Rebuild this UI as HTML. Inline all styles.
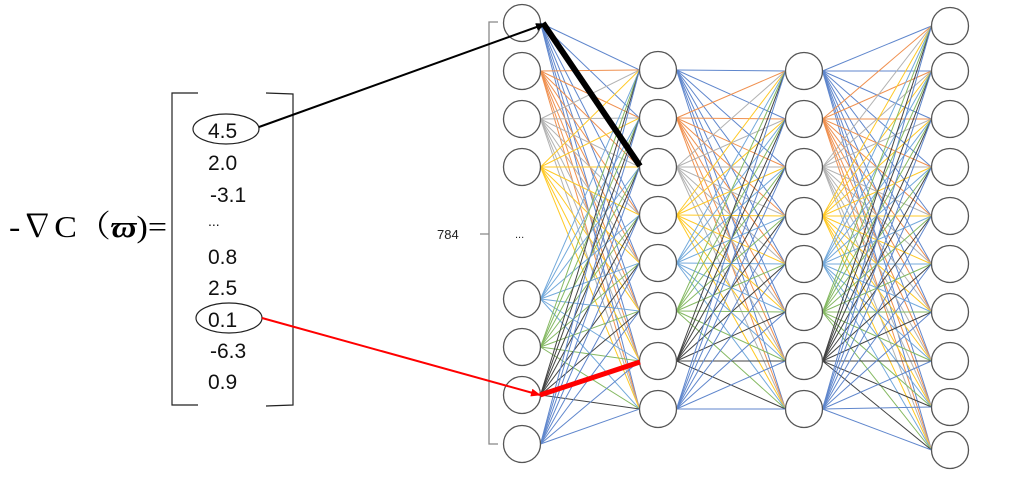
<!DOCTYPE html>
<html><head><meta charset="utf-8"><style>
html,body{margin:0;padding:0;background:#fff;width:1019px;height:484px;overflow:hidden}
svg{display:block}
</style></head><body>
<svg id="s" width="1019" height="484" xmlns="http://www.w3.org/2000/svg">
<defs>
<marker id="ab" markerWidth="10" markerHeight="8" refX="9" refY="4" orient="auto" markerUnits="userSpaceOnUse"><path d="M0,0 L10,4 L0,8 z" fill="#000"/></marker>
<marker id="ar" markerWidth="10" markerHeight="8" refX="9" refY="4" orient="auto" markerUnits="userSpaceOnUse"><path d="M0,0 L10,4 L0,8 z" fill="#f00"/></marker>
</defs>
<g id="lines" stroke-width="1" opacity="0.85"></g>
<g id="nodes" fill="#fff" stroke="#555" stroke-width="1.3"></g>
<text x="9" y="237" font-family="Liberation Serif, 'Noto Serif CJK SC', serif" font-size="31" textLength="158" lengthAdjust="spacingAndGlyphs">-∇C（<tspan font-style="italic" font-weight="bold">ϖ</tspan>)=</text>
<path d="M198,93 L172,93 L172,405 L198,405" fill="none" stroke="#222" stroke-width="1.2"/>
<path d="M266,93 L293,94 L293,405 L266,406" fill="none" stroke="#222" stroke-width="1.2"/>
<g font-family="Liberation Sans, sans-serif" font-size="21" fill="#111">
<text x="208" y="138">4.5</text>
<text x="208" y="170">2.0</text>
<text x="210" y="202">-3.1</text>
<text x="208" y="226" font-size="14">...</text>
<text x="208" y="264">0.8</text>
<text x="208" y="295">2.5</text>
<text x="208" y="327">0.1</text>
<text x="210" y="358">-6.3</text>
<text x="208" y="389">0.9</text>
</g>
<ellipse cx="226" cy="129" rx="33" ry="15" fill="none" stroke="#222" stroke-width="1.2"/>
<ellipse cx="229" cy="318" rx="33" ry="15" fill="none" stroke="#222" stroke-width="1.2"/>
<path d="M498,22 L489,22 L489,444 L498,444 M489,234 L480,234" fill="none" stroke="#888" stroke-width="1.3"/>
<text x="437" y="239" font-family="Liberation Sans, sans-serif" font-size="13" fill="#222">784</text>
<text x="515" y="238" font-family="Liberation Sans, sans-serif" font-size="11" fill="#222">...</text>
<line x1="543" y1="23" x2="640" y2="166" stroke="#000" stroke-width="6"/>
<line x1="540" y1="395" x2="640" y2="362" stroke="#f00" stroke-width="5"/>
<line x1="259" y1="127" x2="545" y2="24" stroke="#000" stroke-width="2" marker-end="url(#ab)"/>
<line x1="262" y1="318" x2="540" y2="395" stroke="#f00" stroke-width="2" marker-end="url(#ar)"/>
</svg>
<script>
var L0={x:522,y:[23,71,119,167,299,347,395,444]};
var L1={x:658,y:[70,118,167,215,263,311,361,409]};
var L2={x:804,y:[71,119,167,216,264,312,361,409]};
var L3={x:950,y:[26,71,119,167,216,264,312,361,407,450]};
var cols=["#4472c4","#ed7d31","#a5a5a5","#ffc000","#5b9bd5","#70ad47","#222","#4472c4"];
var r=18.5,ns="http://www.w3.org/2000/svg";
var lg=document.getElementById("lines"),ng=document.getElementById("nodes");
function conn(A,B){A.y.forEach(function(ya,i){B.y.forEach(function(yb){var l=document.createElementNS(ns,"line");l.setAttribute("x1",A.x+r);l.setAttribute("y1",ya);l.setAttribute("x2",B.x-r);l.setAttribute("y2",yb);l.setAttribute("stroke",cols[i%8]);lg.appendChild(l);});});}
conn(L0,L1);conn(L1,L2);conn(L2,L3);
[L0,L1,L2,L3].forEach(function(L){L.y.forEach(function(y){var c=document.createElementNS(ns,"circle");c.setAttribute("cx",L.x);c.setAttribute("cy",y);c.setAttribute("r",r);ng.appendChild(c);});});
</script>
</body></html>
